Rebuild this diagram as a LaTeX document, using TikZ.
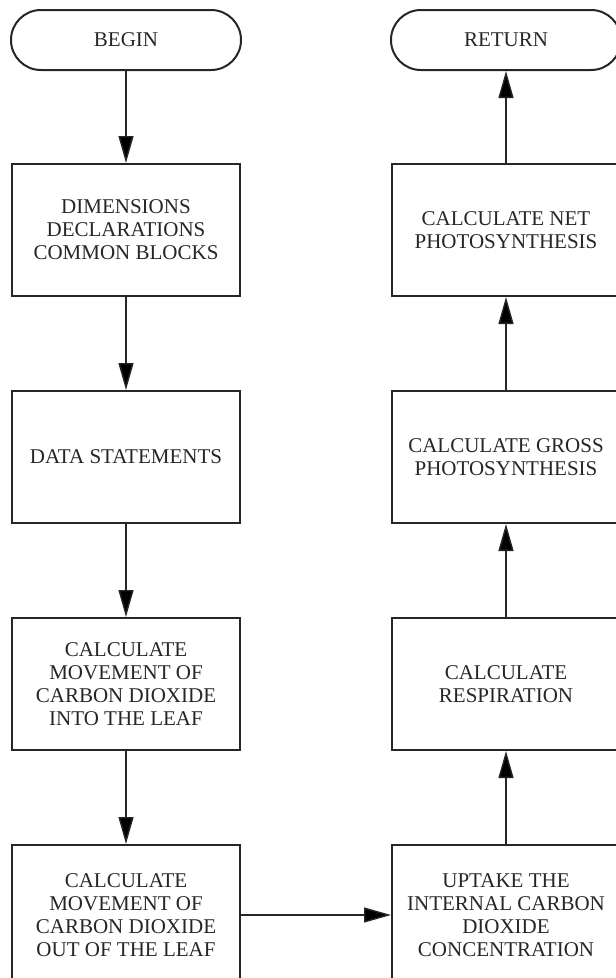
\documentclass[tikz,border=0pt]{standalone}
\usepackage{fontspec}
\setmainfont{Liberation Serif}
\usetikzlibrary{arrows.meta}

\begin{document}
\begin{tikzpicture}
			[x=1pt,y=-1pt,line cap=round,
			%Styles
			box/.style={draw=ink,line width=2pt,minimum width=228pt,minimum height=132pt,
				align=center,text=ink,inner sep=0pt,font=\fontsize{21}{23}\selectfont},
			terminal/.style={box,minimum width=230pt,minimum height=60pt,rounded corners=29.9pt},
			flow/.style={draw=ink,line width=1.4pt,-{Triangle[length=27pt,width=15pt]}}
			]
			
			%Colors
			\colorlet{ink}{black!85}	%lines and text
			
			\useasboundingbox (0,0) rectangle (616,978);
			
			%Left column
			\node[terminal] (begin) at (126,40) {BEGIN};
			\node[box] (dims) at (126,230) {DIMENSIONS\\DECLARATIONS\\COMMON BLOCKS};
			\node[box] (data) at (126,457) {DATA STATEMENTS};
			\node[box] (into) at (126,684) {CALCULATE\\MOVEMENT OF\\CARBON DIOXIDE\\INTO THE LEAF};
			\node[box,minimum height=140pt] (out) at (126,915) {CALCULATE\\MOVEMENT OF\\CARBON DIOXIDE\\OUT OF THE LEAF};
			
			%Right column
			\node[terminal] (return) at (506,40) {RETURN};
			\node[box] (net) at (506,230) {CALCULATE NET\\PHOTOSYNTHESIS};
			\node[box] (gross) at (506,457) {CALCULATE GROSS\\PHOTOSYNTHESIS};
			\node[box] (resp) at (506,684) {CALCULATE\\RESPIRATION};
			\node[box,minimum height=140pt] (uptake) at (506,915) {UPTAKE THE\\INTERNAL CARBON\\DIOXIDE\\CONCENTRATION};
			
			\path[flow]
				(begin) edge (dims)
				(dims) edge (data)
				(data) edge (into)
				(into) edge (out)
				(out) edge (uptake)
				(uptake) edge (resp)
				(resp) edge (gross)
				(gross) edge (net)
				(net) edge (return);
		\end{tikzpicture}
\end{document}
